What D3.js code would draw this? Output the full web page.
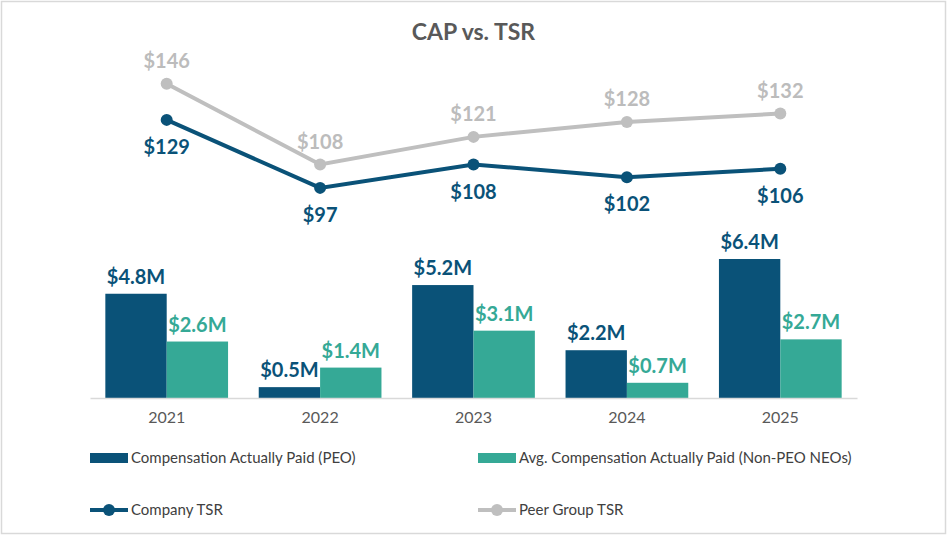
<!DOCTYPE html>
<html>
<head>
<meta charset="utf-8">
<script src="https://cdn.jsdelivr.net/npm/d3@7"></script>
<style>
  body { margin: 0; background: #fff; }
  svg { display: block; font-family: Lato, "Open Sans", sans-serif; }
</style>
</head>
<body>
<div id="chart"></div>
<script>
"use strict"

const years = ["2021", "2022", "2023", "2024", "2025"]
const capPeo = [4.8, 0.5, 5.2, 2.2, 6.4]
const capNeo = [2.6, 1.4, 3.1, 0.7, 2.7]
const companyTsr = [129, 97, 108, 102, 106]
const peerTsr = [146, 108, 121, 128, 132]

const W = 947, H = 535
const navy = "#0a5278", teal = "#35a996", grey = "#bfbfbf", text = "#595959"

const svg = d3.select("#chart").append("svg")
  .attr("width", W).attr("height", H)

// frame
svg.append("rect")
  .attr("x", 1.5).attr("y", 1.5).attr("width", W - 3).attr("height", H - 3)
  .attr("fill", "#fff").attr("stroke", "#d9d9d9").attr("stroke-width", 1.5)

svg.append("text")
  .attr("x", W / 2).attr("y", 40)
  .attr("text-anchor", "middle")
  .attr("fill", text).attr("font-size", 23).attr("font-weight", "bold")
  .text("CAP vs. TSR")

// x scale
const x = d3.scaleBand().domain(years).range([90, 857]).paddingInner(0).paddingOuter(0)
const inner = d3.scaleBand().domain(["peo", "neo"]).range([0, x.bandwidth()]).paddingOuter(0.25).paddingInner(0)

// bars
const yBar = d3.scaleLinear().domain([0, 6.4]).range([398, 259])

const g = svg.append("g")
years.forEach((yr, i) => {
  const grp = g.append("g").attr("transform", `translate(${x(yr)},0)`)
  ;[["peo", capPeo[i], navy], ["neo", capNeo[i], teal]].forEach(([k, v, c]) => {
    grp.append("rect")
      .attr("x", inner(k)).attr("width", inner.bandwidth())
      .attr("y", yBar(v)).attr("height", yBar(0) - yBar(v))
      .attr("fill", c)
    grp.append("text")
      .attr("x", inner(k) + inner.bandwidth() / 2).attr("y", yBar(v) - 10)
      .attr("text-anchor", "middle").attr("fill", c)
      .attr("font-size", 20).attr("font-weight", "bold")
      .text("$" + v.toFixed(1) + "M")
  })
})

// x axis
const xAxis = svg.append("g")
  .attr("transform", "translate(0,398)")
  .call(d3.axisBottom(x).tickSize(0).tickPadding(14))
xAxis.select(".domain").attr("stroke", "#d9d9d9").attr("stroke-width", 1.5)
xAxis.selectAll("text").attr("fill", text).attr("font-size", 16)
  .attr("font-family", "Lato, sans-serif")

// TSR lines
const yLine = d3.scaleLinear().domain([0, 160]).range([394, 54])
const cx = d => x(d) + x.bandwidth() / 2
const line = d3.line().x((d, i) => cx(years[i])).y(d => yLine(d))

function drawSeries(vals, color, labelColor, above) {
  svg.append("path").datum(vals)
    .attr("fill", "none").attr("stroke", color).attr("stroke-width", 4)
    .attr("d", line)
  svg.selectAll(null).data(vals).join("circle")
    .attr("cx", (d, i) => cx(years[i])).attr("cy", d => yLine(d))
    .attr("r", 6).attr("fill", color)
  svg.selectAll(null).data(vals).join("text")
    .attr("x", (d, i) => cx(years[i]))
    .attr("y", d => yLine(d) + (above ? -16 : 34))
    .attr("text-anchor", "middle").attr("fill", labelColor)
    .attr("font-size", 20).attr("font-weight", "bold")
    .text(d => "$" + d)
}
drawSeries(peerTsr, grey, "#bcbcbc", true)
drawSeries(companyTsr, navy, navy, false)

// legend
const legend = [
  {label: "Compensation Actually Paid (PEO)", color: navy, type: "bar", x: 90, y: 458},
  {label: "Avg. Compensation Actually Paid (Non-PEO NEOs)", color: teal, type: "bar", x: 478, y: 458},
  {label: "Company TSR", color: navy, type: "line", x: 90, y: 510},
  {label: "Peer Group TSR", color: grey, type: "line", x: 478, y: 510}
]
legend.forEach(l => {
  const lg = svg.append("g").attr("transform", `translate(${l.x},${l.y})`)
  if (l.type === "bar") {
    lg.append("rect").attr("x", 0).attr("y", -5).attr("width", 38).attr("height", 10).attr("fill", l.color)
  } else {
    lg.append("line").attr("x1", 0).attr("x2", 38).attr("y1", 0).attr("y2", 0)
      .attr("stroke", l.color).attr("stroke-width", 4)
    lg.append("circle").attr("cx", 19).attr("cy", 0).attr("r", 6).attr("fill", l.color)
  }
  lg.append("text").attr("x", 41).attr("y", 0).attr("dy", "0.35em")
    .attr("fill", "#404040").attr("font-size", 15)
    .text(l.label)
})
</script>
</body>
</html>
